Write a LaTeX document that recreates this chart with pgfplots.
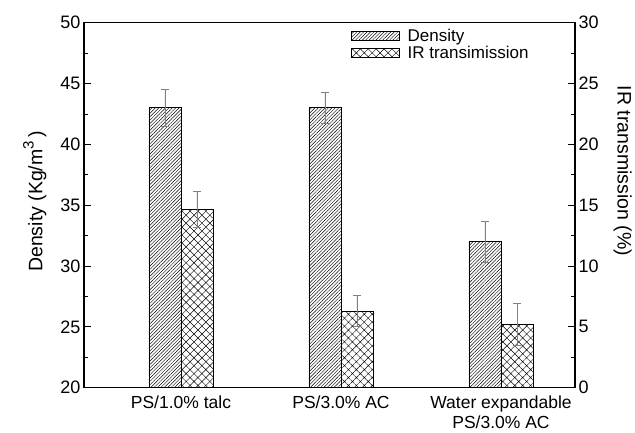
\documentclass[border=0pt]{standalone}
\usepackage{fontspec}
\setmainfont{Liberation Sans}
\usepackage{pgfplots}
\pgfplotsset{compat=1.18}
\usetikzlibrary{patterns.meta}
\pgfplotstableread{
x y err
0 43 1.5
1 43 1.25
2 32 1.7
}\density
\pgfplotstableread{
x y err
0 14.65 1.5
1 6.3 1.25
2 5.2 1.7
}\irtrans
\begin{document}
\begin{tikzpicture}
\pgfplotsset{
  common/.style={
    scale only axis, width=491pt, height=365pt,
    xmin=-0.606, xmax=2.4625,
    axis line style={line width=1.2pt},
    tick align=inside,
    major tick length=7pt, minor tick length=4pt,
    every tick/.style={black, line width=0.8pt},
    /pgf/number format/assume math mode=true,
    every tick label/.append style={font=\fontsize{18}{21}\selectfont},
    ybar, bar width=0.2,
    error bars/error bar style={gray, line width=0.7pt},
    error bars/error mark options={rotate=90, mark size=3.8pt, gray, line width=0.7pt},
  },
  hatchA/.style={draw=black, line width=0.8pt, pattern={Lines[angle=45,distance=2.4pt,line width=0.45pt]}},
  hatchB/.style={draw=black, line width=0.8pt, pattern={Hatch[angle=45,distance=5.6pt,line width=0.45pt]}},
}
\begin{axis}[common,
  ymin=20, ymax=50, ytick={20,25,...,50}, minor ytick={22.5,27.5,...,47.5},
  ytick pos=left,
  xtick={0,1,2}, xtick pos=bottom,
  xticklabels={PS/1.0\% talc, PS/3.0\% AC, {Water expandable\\PS/3.0\% AC}},
  xticklabel style={align=center, font=\fontsize{17.5}{19.5}\selectfont, yshift=2pt},
  x tick style={draw=none},
  ylabel={Density (Kg/m\raisebox{0.45em}{\fontsize{15}{15}\selectfont 3}\,)},
  ylabel style={at={(axis description cs:-0.1,0.51)}, anchor=center, font=\fontsize{19.5}{22}\selectfont},
]
\addplot[hatchA, bar shift=-0.1, error bars/.cd, y dir=both, y explicit] table[x=x, y=y, y error=err] {\density};
\end{axis}
\begin{axis}[common,
  ymin=0, ymax=30, ytick={0,5,...,30}, minor ytick={2.5,7.5,...,27.5},
  axis x line=none, axis y line*=right,
  ylabel={IR transmission (\%)},
  ylabel style={at={(axis description cs:1.097,0.594)}, anchor=center, rotate=180, font=\fontsize{19.5}{22}\selectfont},
  legend style={at={(axis description cs:0.543,0.982)}, anchor=north west, draw=none, fill=none,
    inner sep=0pt, row sep=3pt, font=\fontsize{17}{19}\selectfont,
    nodes={inner sep=0pt},
    /tikz/every odd column/.append style={column sep=8pt}},
  legend cell align=left,
  legend image code/.code={\draw[#1] (0pt,-4.5pt) rectangle (48pt,4.5pt);},
]
\addlegendimage{hatchA}
\addlegendentry{Density}
\addplot[hatchB, bar shift=0.1, error bars/.cd, y dir=both, y explicit] table[x=x, y=y, y error=err] {\irtrans};
\addlegendentry{IR transimission}
\end{axis}
\pgfresetboundingbox
\path (-84pt,-45.3pt) rectangle (551pt,387.7pt);
\end{tikzpicture}
\end{document}
